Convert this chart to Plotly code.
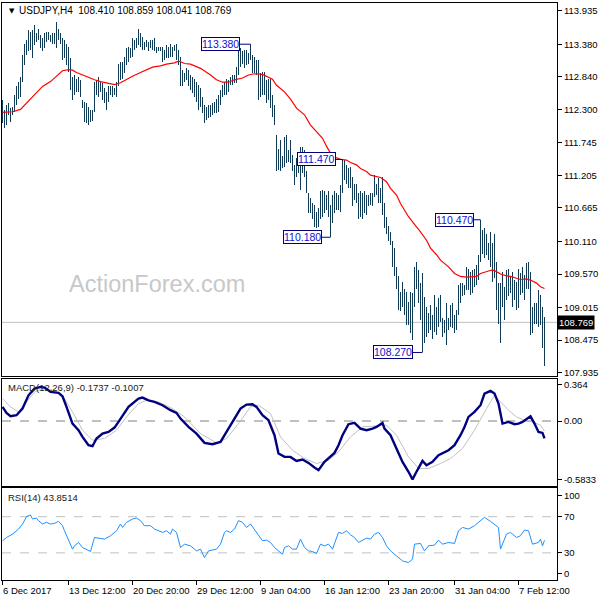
import plotly.graph_objects as go

# ---------------- DATA ----------------
highs = [112.46,112.29,112.37,112.40,112.32,112.34,112.54,112.68,112.76,112.84,
         113.20,113.39,113.45,113.61,113.59,113.61,113.70,113.56,113.64,113.53,
         113.48,113.56,113.59,113.59,113.53,113.56,113.56,113.75,113.64,113.56,
         113.48,113.45,113.39,113.34,113.15,112.84,112.87,112.81,112.84,112.79,
         112.46,112.43,112.40,112.34,112.29,112.29,112.76,112.79,112.84,112.76,
         112.73,112.65,112.59,112.68,112.68,112.68,112.65,112.76,113.06,113.09,
         113.09,113.17,113.31,113.34,113.31,113.48,113.45,113.48,113.64,113.56,
         113.50,113.42,113.45,113.42,113.45,113.45,113.48,113.34,113.34,113.34,
         113.34,113.28,113.37,113.34,113.39,113.34,113.37,113.39,113.28,113.17,
         112.95,112.90,112.98,112.95,112.87,112.84,112.81,112.76,112.70,112.65,
         112.51,112.37,112.34,112.37,112.37,112.40,112.43,112.48,112.54,112.62,
         112.70,112.76,112.81,112.79,112.84,112.87,112.87,113.01,113.28,113.31,
         113.26,113.28,113.28,113.23,113.38,113.20,113.17,113.12,113.12,112.90,
         112.92,112.92,112.79,112.81,112.81,112.54,112.37,111.87,111.65,111.79,
         111.52,111.85,111.87,111.63,111.79,111.54,111.38,111.49,111.54,111.68,
         111.68,111.63,111.27,110.91,110.83,110.74,110.71,110.60,110.66,110.94,
         110.96,110.94,110.88,110.94,110.71,110.88,110.94,110.91,110.88,111.05,
         111.47,111.46,111.38,111.32,111.35,111.18,111.07,111.07,110.91,110.94,
         110.91,110.94,110.88,110.88,110.91,110.91,111.21,111.07,111.16,110.99,
         111.18,110.74,110.52,110.36,110.27,110.11,110.00,109.69,109.53,109.28,
         109.44,109.33,109.28,109.11,109.28,109.25,109.69,109.77,109.64,109.42,
         109.58,109.19,109.03,108.92,109.06,108.89,109.22,109.03,109.17,109.22,
         108.84,108.81,109.09,108.84,109.06,109.09,108.89,108.97,109.39,109.42,
         109.42,109.39,109.69,109.66,109.61,109.64,109.66,109.72,109.89,110.47,
         110.30,110.33,110.24,110.08,110.27,110.08,110.24,109.77,109.42,109.42,
         109.61,109.36,109.64,109.66,109.53,109.61,109.47,109.44,109.66,109.58,
         109.69,109.55,109.75,109.77,109.61,109.03,109.09,109.09,109.30,109.22,
         109.03,108.859]

lows = [112.07,111.99,112.04,112.21,112.09,112.21,112.26,112.37,112.48,112.51,
        112.76,113.03,113.20,113.26,113.28,113.15,113.37,113.42,113.45,113.31,
        113.26,113.31,113.42,113.45,113.42,113.39,113.39,113.31,113.45,113.39,
        113.12,113.15,113.03,112.92,112.62,112.46,112.54,112.59,112.59,112.51,
        112.32,112.09,112.07,112.04,112.09,112.11,112.25,112.54,112.51,112.59,
        112.46,112.40,112.29,112.43,112.54,112.51,112.54,112.51,112.68,112.79,
        112.81,112.90,113.03,113.09,113.15,113.17,113.28,113.31,113.37,113.34,
        113.28,113.28,113.34,113.26,113.31,113.28,113.26,113.23,113.26,113.26,
        113.09,113.12,113.15,113.15,113.17,113.17,113.26,113.12,113.03,112.68,
        112.68,112.76,112.79,112.68,112.62,112.57,112.51,112.43,112.29,112.34,
        112.24,112.07,112.12,112.15,112.18,112.21,112.24,112.24,112.26,112.37,
        112.51,112.54,112.54,112.59,112.70,112.70,112.73,112.73,112.87,113.01,
        113.06,112.98,113.03,113.06,113.12,112.90,112.90,112.87,112.46,112.51,
        112.54,112.54,112.40,112.46,112.32,112.18,112.04,111.27,111.29,111.27,
        111.32,111.35,111.41,111.43,111.41,111.27,111.05,111.18,111.24,110.96,
        111.24,111.18,110.91,110.58,110.58,110.49,110.35,110.33,110.35,110.49,
        110.52,110.58,110.63,110.52,110.18,110.41,110.58,110.63,110.63,110.60,
        110.91,111.13,111.07,110.99,110.99,110.69,110.80,110.74,110.49,110.52,
        110.49,110.58,110.55,110.69,110.71,110.69,110.85,110.88,110.74,110.74,
        110.55,110.33,110.24,110.11,110.05,109.69,109.53,109.33,108.97,108.95,
        109.03,108.89,108.73,108.73,108.59,108.48,109.03,109.33,109.09,108.81,
        108.27,108.42,108.53,108.59,108.64,108.50,108.61,108.56,108.70,108.78,
        108.53,108.59,108.39,108.64,108.70,108.67,108.59,108.64,108.89,109.09,
        109.20,109.22,109.30,109.30,109.22,109.25,109.36,109.39,109.47,109.77,
        109.91,109.83,109.89,109.80,109.69,109.44,109.50,108.97,108.75,108.42,
        109.03,108.81,109.14,109.20,109.25,109.03,109.14,108.97,109.00,109.22,
        109.25,109.14,109.33,109.33,108.56,108.59,108.75,108.75,108.70,108.73,
        108.34,108.041]

ma_idx = [0,5,9,12,15,18,20,24,27,30,33,35,37,40,43,46,49,54,56,59,62,65,69,72,75,79,82,86,88,89,
          91,94,99,104,107,110,113,116,120,123,126,130,132,135,137,141,144,147,151,154,157,160,162,
          164,166,169,172,174,177,179,182,184,189,192,194,197,199,203,207,209,212,214,217,219,223,
          226,229,232,237,239,243,245,247,249,252,254,257,259,262,264,267,269,271]
ma_val = [112.25,112.26,112.30,112.40,112.51,112.60,112.68,112.76,112.85,112.94,112.96,112.95,112.91,
          112.87,112.82,112.79,112.76,112.72,112.71,112.74,112.80,112.85,112.91,112.96,113.00,113.02,
          113.05,113.07,113.10,113.09,113.06,113.05,112.98,112.87,112.79,112.75,112.75,112.79,112.82,
          112.87,112.89,112.88,112.85,112.80,112.70,112.59,112.47,112.32,112.21,112.04,111.93,111.82,
          111.69,111.57,111.51,111.47,111.46,111.42,111.38,111.32,111.27,111.21,111.17,111.10,110.99,
          110.88,110.74,110.52,110.35,110.27,110.13,110.00,109.89,109.80,109.69,109.58,109.53,109.52,
          109.53,109.58,109.62,109.64,109.61,109.57,109.54,109.53,109.50,109.48,109.49,109.47,109.42,
          109.36,109.33]

macd_idx = [0,2,4,7,10,13,16,19,21,24,28,30,32,35,38,40,43,45,47,50,53,56,58,60,63,66,68,70,73,76,
            80,84,87,89,93,97,101,105,109,112,114,117,119,122,125,127,130,133,136,138,141,144,147,
            150,153,156,158,161,164,166,168,170,173,176,179,182,185,187,190,191,194,197,200,203,205,
            207,210,212,215,218,220,223,226,229,231,233,236,239,241,244,246,248,250,253,256,258,260,
            262,264,266,268,270,271]
macd_val = [0.141,0.081,0.048,0.058,0.124,0.257,0.324,0.341,0.334,0.291,0.281,0.247,0.141,-0.026,
            -0.092,-0.159,-0.242,-0.252,-0.175,-0.126,-0.109,-0.066,-0.009,0.048,0.141,0.191,0.224,
            0.234,0.207,0.191,0.158,0.108,0.081,0.024,-0.059,-0.126,-0.219,-0.232,-0.209,-0.109,
            -0.042,0.058,0.124,0.164,0.167,0.141,0.058,0.008,-0.142,-0.325,-0.359,-0.359,-0.399,
            -0.385,-0.419,-0.465,-0.492,-0.409,-0.359,-0.319,-0.242,-0.142,-0.032,-0.019,-0.076,
            -0.092,-0.076,-0.059,-0.019,-0.076,-0.142,-0.275,-0.409,-0.508,-0.5833,-0.508,-0.399,
            -0.442,-0.409,-0.342,-0.319,-0.292,-0.242,-0.142,-0.059,0.041,0.091,0.158,0.274,0.301,
            0.274,0.174,-0.026,-0.009,-0.032,-0.026,-0.009,0.024,0.048,-0.026,-0.109,-0.119,-0.1737]

sig_idx = [0,4,8,12,16,20,26,31,35,40,45,51,57,62,68,72,78,85,91,99,107,112,118,124,128,134,139,
           145,151,157,163,168,174,180,186,192,197,203,208,213,219,224,230,236,242,246,249,253,257,
           261,265,269,271]
sig_val = [0.224,0.141,0.091,0.191,0.291,0.324,0.307,0.224,0.091,-0.092,-0.192,-0.175,-0.092,0.041,
           0.174,0.207,0.191,0.124,0.041,-0.126,-0.219,-0.175,-0.026,0.141,0.158,0.074,-0.159,-0.292,
           -0.375,-0.425,-0.392,-0.309,-0.159,-0.059,-0.052,-0.042,-0.142,-0.359,-0.475,-0.475,-0.425,
           -0.375,-0.275,-0.092,0.124,0.257,0.191,0.108,0.041,0.008,-0.009,-0.042,-0.1007]

rsi_idx = [0,2,5,8,10,12,14,15,17,18,20,22,24,26,28,30,31,33,35,36,38,40,42,44,46,48,51,54,57,59,
           60,62,65,67,69,71,74,76,78,80,82,84,85,87,89,91,94,97,99,101,103,105,107,109,111,112,114,
           116,118,120,122,124,126,128,130,132,134,136,138,140,141,143,145,147,149,151,153,155,157,
           159,161,163,165,167,168,170,172,174,176,178,180,182,184,186,188,190,192,194,197,200,203,
           205,206,209,211,213,216,218,220,223,226,228,230,233,236,238,241,244,247,248,249,252,254,
           257,259,261,263,265,268,269,270,271]
rsi_val = [43.3,47.0,50.7,56.3,61.9,70.0,71.9,67.4,68.5,65.6,61.9,63.7,61.9,62.6,64.8,60.0,54.4,45.2,
           34.1,37.8,41.5,35.9,34.1,31.5,47.0,46.3,45.2,48.9,54.4,61.9,58.1,63.7,67.4,68.5,65.6,60.0,
           60.0,56.3,54.4,52.6,54.4,50.7,56.3,52.6,35.9,39.6,37.8,32.2,34.1,24.8,32.2,33.0,34.1,39.6,
           52.6,54.4,52.6,56.3,65.6,63.7,58.1,61.9,55.2,48.9,43.3,44.1,41.5,35.9,32.2,28.5,35.9,37.8,
           34.1,34.1,45.2,35.9,32.2,31.5,29.3,39.6,37.8,39.6,34.1,45.2,52.6,51.5,54.4,50.0,47.0,41.5,
           44.1,46.3,45.2,50.7,52.6,47.0,37.8,32.2,26.7,21.1,19.3,23.0,39.6,40.4,32.2,37.8,38.5,44.1,
           39.6,41.5,40.4,54.4,58.1,56.3,60.0,63.7,69.3,64.8,60.0,58.1,34.1,50.7,52.6,47.0,48.9,55.2,
           54.4,39.6,41.5,45.2,37.8,43.85]

price_ticks = [113.935, 113.380, 112.840, 112.300, 111.745, 111.205, 110.665,
               110.110, 109.570, 109.015, 108.475, 107.935]
macd_ticks = [0.364, 0.0, -0.5833]
macd_tick_text = ["0.364", "0.00", "-0.5833"]
rsi_levels = [70, 30]

date_idx = [0, 33, 65, 97, 129, 161, 193, 226, 258]
date_labels = ["6 Dec 2017", "13 Dec 12:00", "20 Dec 20:00", "29 Dec 12:00", "9 Jan 04:00",
               "16 Jan 12:00", "23 Jan 20:00", "31 Jan 04:00", "7 Feb 12:00"]

last_ohlc = [108.410, 108.859, 108.041, 108.769]
last_price = 108.769
macd_last = (-0.1737, -0.1007)
rsi_last = 43.8514

mark_idx = [124, 170, 164, 210, 239]
mark_val = [113.380, 111.470, 110.180, 108.270, 110.470]

# ---------------- STYLE ----------------
FONT = "Liberation Sans"
BAR = "#0f3a56"
W, H = 600, 600
L, R, T, B = 2, 43, 3, 20
PW, PH = W - L - R, H - T - B


def px(x):
    return (x - L) / PW


def py(y):
    return (H - B - y) / PH


idx = list(range(len(highs)))
fig = go.Figure()

# bars are exactly 1px wide on a 2px grid (range chosen so each index unit = 2px)
fig.add_trace(go.Bar(x=idx, y=[h - l for h, l in zip(highs, lows)], base=lows, width=0.5,
                     marker=dict(color=BAR, opacity=0.995, line=dict(width=0)),
                     xaxis="x3", yaxis="y", hoverinfo="skip"))
fig.add_trace(go.Scatter(x=ma_idx, y=ma_val, mode="lines", line=dict(color="#ff0000", width=1.2),
                         xaxis="x3", yaxis="y", hoverinfo="skip"))

fig.add_trace(go.Scatter(x=sig_idx, y=sig_val, mode="lines", line=dict(color="#c0c0c0", width=1),
                         xaxis="x2", yaxis="y2", hoverinfo="skip"))
fig.add_trace(go.Scatter(x=macd_idx, y=macd_val, mode="lines", line=dict(color="#000080", width=2.4),
                         xaxis="x2", yaxis="y2", hoverinfo="skip"))

fig.add_trace(go.Scatter(x=rsi_idx, y=rsi_val, mode="lines", line=dict(color="#1e90ff", width=1),
                         xaxis="x", yaxis="y3", hoverinfo="skip"))

x0 = -0.25
xr = [x0, x0 + PW / 2.0]
axis_common = dict(showline=True, mirror=True, linecolor="black", linewidth=1,
                   showgrid=False, zeroline=False)
ytick_common = dict(side="right", ticks="outside", ticklen=4, tickcolor="black",
                    tickfont=dict(family=FONT, size=9.5, color="black"))

fig.update_layout(
    width=W, height=H, margin=dict(l=L, r=R, t=T, b=B),
    paper_bgcolor="white", plot_bgcolor="white", showlegend=False, bargap=0,
    font=dict(family=FONT, size=9.5, color="black"),
    xaxis=dict(domain=[0, 1], anchor="y3", range=xr, tickvals=date_idx, ticks="outside",
               ticklen=4, tickcolor="black", showticklabels=False, **axis_common),
    xaxis2=dict(domain=[0, 1], anchor="y2", matches="x", showticklabels=False, ticks="",
                **axis_common),
    xaxis3=dict(domain=[0, 1], anchor="y", matches="x", showticklabels=False, ticks="",
                **axis_common),
    yaxis=dict(domain=[py(376), 1], anchor="x3", range=[107.880, 114.063], tickvals=price_ticks,
               ticktext=["%.3f" % v for v in price_ticks], **ytick_common, **axis_common),
    yaxis2=dict(domain=[py(486), py(378.5)], anchor="x2", range=[-0.65, 0.425],
                tickvals=macd_ticks, ticktext=macd_tick_text, **ytick_common, **axis_common),
    yaxis3=dict(domain=[0, py(488)], anchor="x", range=[0, 101.7],
                tickvals=[93, 70, 30, 7], ticktext=["100", "70", "30", "0"],
                **ytick_common, **axis_common),
)

shapes = []
shapes.append(dict(type="line", xref="x3 domain", yref="y", x0=0, x1=1, y0=last_price, y1=last_price,
                   line=dict(color="#c0c0c0", width=1), layer="below"))
shapes.append(dict(type="line", xref="x2 domain", yref="y2", x0=0, x1=1, y0=0, y1=0,
                   line=dict(color="#808080", width=1, dash="dash"), layer="below"))
for lv in rsi_levels:
    shapes.append(dict(type="line", xref="x domain", yref="y3", x0=0, x1=1, y0=lv, y1=lv,
                       line=dict(color="#c0c0c0", width=1, dash="dash"), layer="below"))

gaps = [10.5, 7, 9, 9.5, 7]
ann = []
for i, v, g in zip(mark_idx, mark_val, gaps):
    shapes.append(dict(type="line", xref="x3", yref="y", xsizemode="pixel", xanchor=i,
                       x0=-g, x1=0, y0=v, y1=v, line=dict(color="#000080", width=1)))
    ann.append(dict(x=i, y=v, xref="x3", yref="y", xanchor="right", yanchor="middle",
                    xshift=-g, text="%.3f" % v, showarrow=False, bgcolor="white",
                    bordercolor="#000080", borderwidth=1, borderpad=0,
                    font=dict(family=FONT, size=10.5, color="#1010d0")))

ann.append(dict(x=1, y=last_price, xref="paper", yref="y", xanchor="left", yanchor="middle",
                text="%.3f" % last_price, showarrow=False, bgcolor="black", borderpad=1,
                font=dict(family=FONT, size=9.5, color="white")))

ann.append(dict(x=px(7), y=py(10.5), xref="paper", yref="paper", xanchor="left", yanchor="middle",
                text="▼", showarrow=False, font=dict(family="DejaVu Sans", size=7, color="black")))
ann.append(dict(x=px(17), y=py(10.5), xref="paper", yref="paper", xanchor="left", yanchor="middle",
                text="USDJPY,H4  " + " ".join("%.3f" % v for v in last_ohlc), showarrow=False,
                font=dict(family=FONT, size=10, color="black")))
ann.append(dict(x=px(157), y=py(284), xref="paper", yref="paper", xanchor="center",
                yanchor="middle", text="ActionForex.com", showarrow=False,
                font=dict(family=FONT, size=23.5, color="#c8c8c8")))
ann.append(dict(x=px(6), y=py(388), xref="paper", yref="paper", xanchor="left", yanchor="middle",
                text="MACD(12,26,9) %.4f %.4f" % macd_last, showarrow=False,
                font=dict(family=FONT, size=9.5, color="#202020")))
ann.append(dict(x=px(6), y=py(497), xref="paper", yref="paper", xanchor="left", yanchor="middle",
                text="RSI(14) %.4f" % rsi_last, showarrow=False,
                font=dict(family=FONT, size=9.5, color="#202020")))
for i, lab in zip(date_idx, date_labels):
    ann.append(dict(x=i, y=py(590), xref="x", yref="paper", xanchor="left", yanchor="middle",
                    xshift=-2, text=lab, showarrow=False,
                    font=dict(family=FONT, size=9.5, color="black")))

fig.update_layout(shapes=shapes, annotations=ann)
fig.write_html("out.html", config={"displayModeBar": False},
               post_script="document.body.style.margin='0';")
